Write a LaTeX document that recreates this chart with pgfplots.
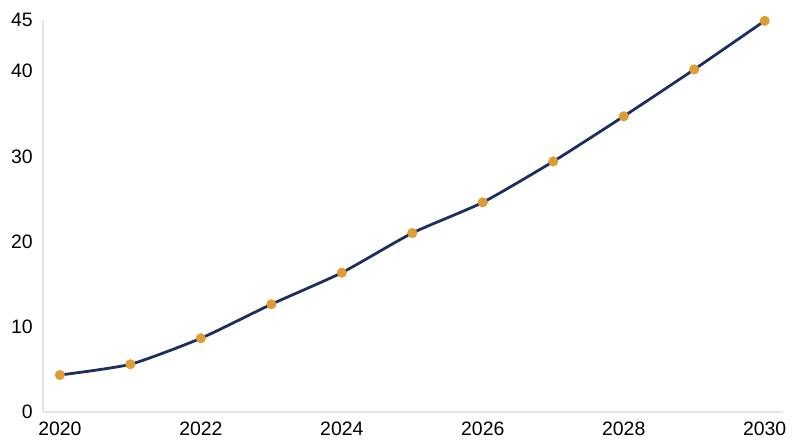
\documentclass[border=0pt]{standalone}
\usepackage{fontspec}
\setmainfont{Liberation Sans}
\usepackage{pgfplots}
\pgfplotsset{compat=1.18}

\definecolor{navy}{RGB}{29,47,94}
\definecolor{gold}{RGB}{224,156,52}
\definecolor{axisgray}{RGB}{228,228,228}

\begin{document}
\begin{tikzpicture}
\useasboundingbox (-43bp,-35bp) rectangle (757bp,412bp);
\begin{axis}[
  at={(0,0)}, anchor=south west,
  scale only axis,
  width=740bp, height=392bp,
  xmin=2019.76, xmax=2030.26,
  ymin=0, ymax=46,
  axis x line*=bottom, axis y line*=left,
  axis line style={axisgray, line width=1.2bp},
  x axis line style={-}, y axis line style={-},
  xtick={2020,2022,...,2030},
  ytick={0,10,20,30,40,46},
  yticklabels={0,10,20,30,40,45},
  major tick length=0pt,
  xticklabel style={/pgf/number format/1000 sep={}},
  /pgf/number format/assume math mode=true,
  tick label style={font=\fontsize{19.5}{22}\selectfont, text=black},
  yticklabel style={inner sep=0pt, xshift=-10bp},
  xticklabel style={inner sep=0pt, yshift=-10bp},
  clip=false,
]
\addplot[navy, line width=2.8bp, smooth, tension=0.35,
  mark=*, mark size=4.8bp, mark options={fill=gold, draw=gold, line width=0.4bp}]
coordinates {
(2020, 4.34)
(2021, 5.6)
(2022, 8.65)
(2023, 12.64)
(2024, 16.35)
(2025, 21.0)
(2026, 24.6)
(2027, 29.4)
(2028, 34.7)
(2029, 40.2)
(2030, 45.9)
};
\end{axis}
\end{tikzpicture}
\end{document}
